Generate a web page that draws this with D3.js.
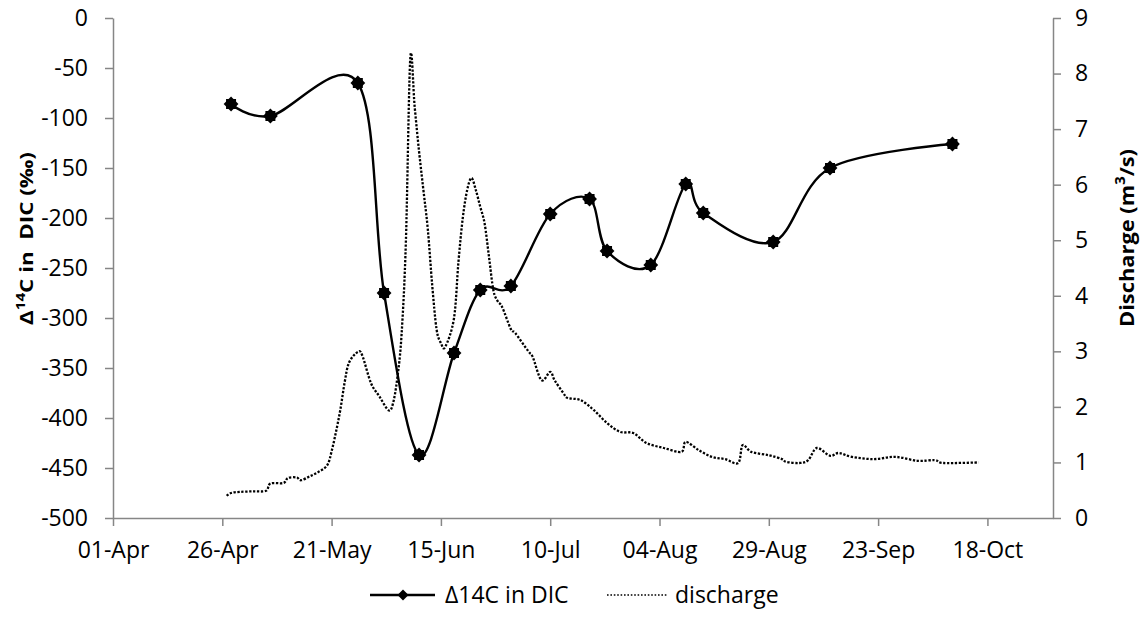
<!DOCTYPE html>
<html>
<head>
<meta charset="utf-8">
<script src="https://cdn.jsdelivr.net/npm/d3@7"></script>
<style>
  html, body { margin: 0; padding: 0; background: #fff; }
  svg { display: block; }
  text { font-family: "Open Sans", "Noto Sans", sans-serif; fill: #000; }
</style>
</head>
<body>
<svg id="chart" width="1141" height="624"></svg>
<script>
// ---- Data ----
const dicDates = ["2013-04-28","2013-05-07","2013-05-27","2013-06-02","2013-06-10","2013-06-18",
  "2013-06-24","2013-07-01","2013-07-10","2013-07-19","2013-07-23","2013-08-02","2013-08-10",
  "2013-08-14","2013-08-30","2013-09-12","2013-10-10"];
const dicValues = [-86, -98, -65, -275, -437, -335, -272, -268, -196, -181, -233, -247, -166, -195, -224, -150, -126];

const dischargeDates = ["2013-04-27","2013-04-28","2013-04-30","2013-05-03","2013-05-06","2013-05-07",
  "2013-05-10","2013-05-11","2013-05-13","2013-05-14","2013-05-16","2013-05-18","2013-05-20","2013-05-21",
  "2013-05-22","2013-05-23","2013-05-24","2013-05-25","2013-05-27","2013-05-28","2013-05-30","2013-06-01",
  "2013-06-03","2013-06-04","2013-06-05","2013-06-06","2013-06-07","2013-06-08","2013-06-09","2013-06-10",
  "2013-06-11","2013-06-12","2013-06-13","2013-06-14","2013-06-15","2013-06-16","2013-06-18","2013-06-19",
  "2013-06-20","2013-06-21","2013-06-22","2013-06-23","2013-06-24","2013-06-25","2013-06-26","2013-06-27",
  "2013-06-28","2013-06-29","2013-07-01","2013-07-02","2013-07-05","2013-07-06","2013-07-08","2013-07-10",
  "2013-07-11","2013-07-13","2013-07-14","2013-07-17","2013-07-20","2013-07-23","2013-07-26","2013-07-29",
  "2013-08-01","2013-08-05","2013-08-09","2013-08-10","2013-08-13","2013-08-16","2013-08-19","2013-08-22",
  "2013-08-23","2013-08-25","2013-08-29","2013-09-01","2013-09-02","2013-09-05","2013-09-07","2013-09-09",
  "2013-09-12","2013-09-14","2013-09-17","2013-09-22","2013-09-27","2013-10-02","2013-10-06","2013-10-08",
  "2013-10-16"];
const dischargeValues = [0.40,0.45,0.47,0.48,0.49,0.62,
  0.63,0.72,0.73,0.68,0.75,0.83,0.95,1.20,
  1.55,1.95,2.45,2.80,2.99,2.93,2.43,2.18,
  1.94,2.05,2.50,3.30,5.00,8.28,7.40,6.60,
  5.90,5.20,4.20,3.40,3.15,3.08,3.60,4.60,
  5.40,5.90,6.12,5.90,5.60,5.30,4.70,4.10,
  3.90,3.80,3.40,3.33,3.00,2.90,2.48,2.63,
  2.48,2.25,2.16,2.12,1.94,1.71,1.55,1.53,
  1.35,1.26,1.19,1.37,1.22,1.10,1.06,0.99,
  1.31,1.19,1.13,1.06,1.01,0.99,1.04,1.26,
  1.12,1.17,1.10,1.06,1.10,1.03,1.04,0.99,
  1.00];

const xTickDates = ["2013-04-01","2013-04-26","2013-05-21","2013-06-15","2013-07-10","2013-08-04","2013-08-29","2013-09-23","2013-10-18"];
const xTickLabels = ["01-Apr","26-Apr","21-May","15-Jun","10-Jul","04-Aug","29-Aug","23-Sep","18-Oct"];
const leftTicks = [0,-50,-100,-150,-200,-250,-300,-350,-400,-450,-500];
const rightTicks = [0,1,2,3,4,5,6,7,8,9];
const xDomain = ["2013-04-01","2013-11-02"];

// ---- Chart ----
const parse = d3.timeParse("%Y-%m-%d");
const svg = d3.select("#chart");
svg.append("rect").attr("width",1141).attr("height",624).attr("fill","#fff");

const plot = {left:113, right:1053, top:18, bottom:518};
const x = d3.scaleTime().domain(xDomain.map(parse)).range([plot.left, plot.right]);
const yL = d3.scaleLinear().domain([-500, 0]).range([plot.bottom, plot.top]);
const yR = d3.scaleLinear().domain([0, 9]).range([plot.bottom, plot.top]);

const axisColor = "#868686";
const tickFont = 23;
function styleAxis(g) {
  g.selectAll(".domain").attr("stroke", axisColor).attr("stroke-width", 1.5);
  g.selectAll(".tick line").attr("stroke", axisColor).attr("stroke-width", 1.5);
  g.selectAll(".tick text").attr("font-size", tickFont).attr("fill", "#000")
    .style("font-family", '"Open Sans", sans-serif');
}

const tickDates = xTickDates.map(parse);
const gx = svg.append("g").attr("transform", `translate(0,${plot.bottom})`)
  .call(d3.axisBottom(x).tickValues(tickDates).tickSize(8).tickSizeOuter(0).tickPadding(16)
    .tickFormat((d, i) => xTickLabels[i]));
styleAxis(gx);

const gl = svg.append("g").attr("transform", `translate(${plot.left},0)`)
  .call(d3.axisLeft(yL).tickValues(leftTicks).tickSize(8).tickSizeOuter(0).tickPadding(17)
    .tickFormat(d => d < 0 ? "-" + Math.abs(d) : String(d)));
styleAxis(gl);

const gr = svg.append("g").attr("transform", `translate(${plot.right},0)`)
  .call(d3.axisRight(yR).tickValues(rightTicks).tickSize(8).tickSizeOuter(0).tickPadding(14)
    .tickFormat(d3.format("d")));
styleAxis(gr);

// Discharge dotted line
const qData = dischargeDates.map((d, i) => ({date: parse(d), v: dischargeValues[i]}));
const qLine = d3.line().x(d => x(d.date)).y(d => yR(d.v)).curve(d3.curveCardinal.tension(0));
svg.append("path").datum(qData).attr("d", qLine)
  .attr("fill", "none").attr("stroke", "#000").attr("stroke-width", 2.3)
  .attr("stroke-dasharray", "2.3,1.6");

// DIC line
const cData = dicDates.map((d, i) => ({date: parse(d), v: dicValues[i]}));
const cLine = d3.line().x(d => x(d.date)).y(d => yL(d.v)).curve(d3.curveCardinal.tension(0));
svg.append("path").datum(cData).attr("d", cLine)
  .attr("fill", "none").attr("stroke", "#000").attr("stroke-width", 2.4);

const diamond = r => `M0,${-r}L${r},0L0,${r}L${-r},0Z`;
const mk = svg.append("g").selectAll("g").data(cData).join("g")
  .attr("transform", d => `translate(${x(d.date)},${yL(d.v)})`);
mk.append("path").attr("d", diamond(7.4)).attr("fill", "#000");
mk.append("rect").attr("x", -5).attr("y", -5).attr("width", 10).attr("height", 10).attr("fill", "#000");

// Axis titles
function rotatedTitle(cx, cy, size, parts, targetLen) {
  const g = svg.append("g").attr("transform", `translate(${cx},${cy}) rotate(-90)`);
  const t = g.append("text").attr("text-anchor", "middle").attr("font-weight", "bold")
    .attr("font-size", size).style("white-space", "pre");
  parts.forEach(p => {
    const ts = t.append("tspan").text(p.t);
    if (p.sup) ts.attr("font-size", size * 0.68).attr("baseline-shift", "super");
  });
  const len = t.node().getComputedTextLength();
  t.attr("transform", `scale(${targetLen / len},1)`);
  return t;
}
rotatedTitle(33, 238.5, 17, [{t:"Δ"},{t:"14",sup:true},{t:"C in  DIC (‰)"}], 173);
rotatedTitle(1134, 238, 20, [{t:"Discharge (m"},{t:"3",sup:true},{t:"/s)"}], 178);

// Legend
const ly = 595;
svg.append("line").attr("x1", 370).attr("x2", 435).attr("y1", ly).attr("y2", ly)
  .attr("stroke", "#000").attr("stroke-width", 2.4);
svg.append("path").attr("d", diamond(5.5)).attr("transform", `translate(403,${ly})`).attr("fill", "#000");
svg.append("text").attr("x", 445).attr("y", 603).attr("font-size", 23).text("Δ14C in DIC");
svg.append("line").attr("x1", 607).attr("x2", 668).attr("y1", ly).attr("y2", ly)
  .attr("stroke", "#000").attr("stroke-width", 1.6).attr("stroke-dasharray", "1.6,1.8");
svg.append("text").attr("x", 675).attr("y", 603).attr("font-size", 23).text("discharge");
</script>
</body>
</html>
